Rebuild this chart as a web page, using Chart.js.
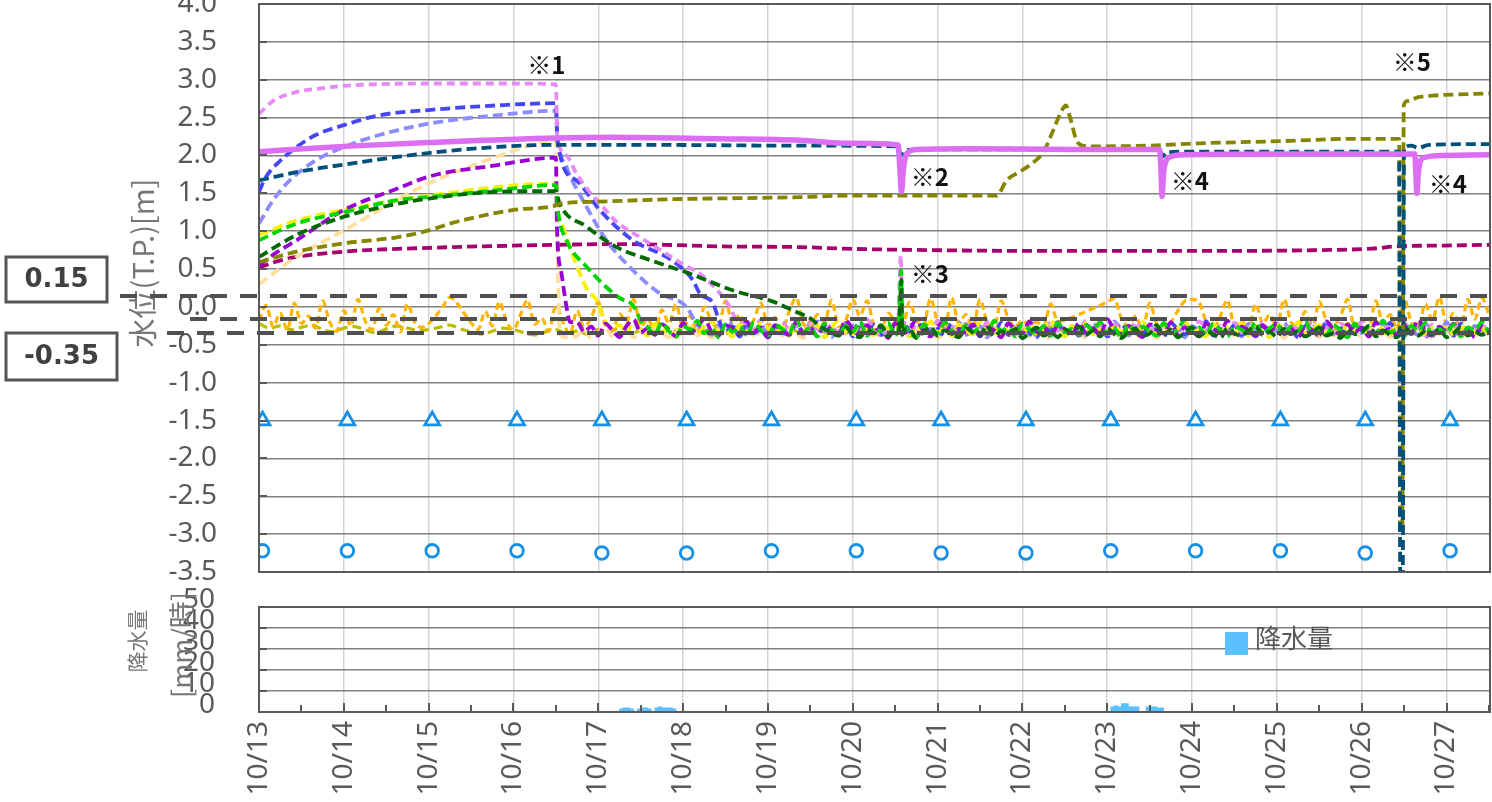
<!DOCTYPE html>
<html>
<head>
<meta charset="utf-8">
<script src="https://cdn.jsdelivr.net/npm/chart.js@4.4.1/dist/chart.umd.min.js"></script>
<style>
  html, body { margin: 0; padding: 0; background: #ffffff; }
  #wrap { position: relative; width: 1492px; height: 802px; overflow: hidden; }
  #wrap canvas { position: absolute; left: 0; top: 0; }
</style>
</head>
<body>
<div id="wrap">
  <canvas id="level" width="1492" height="802"></canvas>
  <canvas id="rain" width="1492" height="802"></canvas>
</div>
<script>
// ---- time axis: hours since 10/13 00:00 ----
const HOUR_MAX = 348.3;
const dayLabels = ['10/13','10/14','10/15','10/16','10/17','10/18','10/19','10/20','10/21','10/22','10/23','10/24','10/25','10/26','10/27'];
const levelTitle = '水位(T.P.)[m]';
const rainTitle = ['降水量', '[mm/時]'];

// ---- water level series: [hour, level T.P. m] ----
const magentaLine = [[0,2.05],[24,2.12],[48,2.17],[84,2.23],[100,2.24],[130,2.22],[153,2.20],[167,2.16],[180.8,2.14],[181.3,1.85],[181.8,1.52],[182.3,1.80],[183.2,2.02],[186,2.08],[200,2.09],[230,2.08],[254.8,2.08],[255.2,1.80],[255.5,1.46],[256,1.80],[257.7,1.98],[262,2.01],[290,2.02],[327,2.02],[327.3,1.80],[327.6,1.50],[328.1,1.80],[329.5,1.97],[335,2.00],[348.3,2.01]];
const tealLine = [[0,1.67],[10.6,1.78],[24,1.88],[39,1.98],[58,2.08],[84,2.14],[110,2.14],[150,2.13],[180.8,2.12],[181.6,2.00],[182.5,2.06],[186,2.08],[230,2.08],[254.8,2.08],[255.6,1.98],[256.5,2.04],[262,2.05],[322.6,2.05],[322.9,-3.6],[323.6,-3.6],[324,2.10],[326,2.13],[328,2.10],[331,2.14],[348.3,2.15]];
const oliveLine = [[0,0.59],[10.6,0.73],[24,0.84],[39,0.92],[48,1.01],[54,1.10],[58,1.15],[72,1.28],[84,1.34],[85,1.36],[96,1.39],[115,1.42],[153,1.45],[167,1.47],[208.7,1.47],[211.5,1.67],[215,1.78],[218,1.87],[222,2.05],[224.7,2.33],[227,2.58],[228.3,2.66],[229.5,2.50],[231.3,2.20],[233,2.13],[235,2.12],[252,2.13],[266,2.16],[290,2.19],[310,2.22],[322.6,2.22],[322.9,-2.95],[323.5,-2.95],[323.9,2.66],[325,2.72],[328,2.77],[332,2.79],[348.3,2.82]];
const crimsonLine = [[0,0.52],[5,0.60],[10.6,0.66],[24,0.73],[48,0.78],[84,0.82],[100,0.83],[115,0.82],[130,0.80],[153,0.79],[165,0.77],[190,0.75],[220,0.74],[266,0.74],[300,0.75],[315,0.77],[322,0.80],[335,0.81],[348.3,0.82]];

// falling limbs after pumping start (※1), then 2-hourly readings
const violetHead = [[0,2.55],[4,2.72],[10,2.83],[18,2.89],[24,2.92],[48,2.95],[70,2.95],[84,2.94],[84.4,2.26],[87,2.00],[89.8,1.76],[93,1.55],[96.4,1.37],[101,1.13],[107.8,0.92],[115.3,0.70],[120,0.56],[124.7,0.44],[128,0.30],[130.4,0.18],[133.2,0.00],[135.5,-0.2]];
const violetTail = [
  -0.22,-0.31,-0.17,-0.28,-0.35,-0.2,-0.3,-0.25,-0.37,-0.19,-0.29,-0.33,
  -0.24,-0.36,-0.21,-0.27,-0.32,-0.16,-0.3,-0.38,-0.23,-0.34,-0.26,-0.2,
  -0.33,-0.28,-0.36,-0.18,-0.31,-0.25,-0.39,-0.22,-0.29,-0.34,-0.2,-0.3,
  -0.37,-0.24,-0.27,-0.33,-0.19,-0.35,-0.28,-0.21,-0.32,-0.38,-0.25,-0.3,
  -0.18,-0.34,-0.26,-0.36,-0.23,-0.29,-0.37,-0.2,-0.31,-0.27,-0.35,-0.22,
  -0.3,-0.39,-0.24,-0.33,-0.19,-0.28,-0.36,-0.25,-0.32,-0.21,-0.34,-0.29,
  -0.37,-0.2,-0.31,-0.26,-0.35,-0.23,-0.3,-0.38,-0.17,-0.33,-0.27,-0.36,
  -0.22,-0.29,-0.34,-0.19,-0.32,-0.37,-0.25,-0.28,-0.35,-0.21,-0.31,-0.26,
  -0.38,-0.23,-0.3,-0.34,-0.2,-0.36,-0.27,-0.32,-0.24,-0.33
];
const violetSpike = [[180.8,-0.27],[181.6,0.68],[182.4,-0.22]];

const blueHead = [[0,1.52],[2,1.72],[6,1.93],[10.6,2.11],[16,2.27],[24,2.40],[34,2.53],[48,2.60],[67,2.66],[84,2.69],[84.4,2.20],[89.8,1.67],[96.4,1.28],[105.8,0.88],[115.3,0.66],[120,0.50],[122.8,0.35],[124.7,0.18],[128.4,0.05],[130.5,-0.22]];
const blueTail = [
  -0.33,-0.26,-0.39,-0.22,-0.35,-0.3,-0.4,-0.24,-0.32,-0.37,-0.2,-0.34,
  -0.28,-0.38,-0.25,-0.31,-0.36,-0.21,-0.39,-0.27,-0.33,-0.23,-0.37,-0.3,
  -0.35,-0.19,-0.32,-0.4,-0.26,-0.34,-0.29,-0.38,-0.22,-0.31,-0.36,-0.25,
  -0.39,-0.28,-0.33,-0.21,-0.37,-0.3,-0.24,-0.35,-0.4,-0.27,-0.32,-0.2,
  -0.36,-0.29,-0.38,-0.23,-0.34,-0.26,-0.39,-0.31,-0.22,-0.35,-0.28,-0.37,
  -0.25,-0.32,-0.4,-0.21,-0.3,-0.36,-0.27,-0.33,-0.19,-0.38,-0.29,-0.34,
  -0.24,-0.37,-0.31,-0.39,-0.26,-0.33,-0.22,-0.36,-0.3,-0.4,-0.25,-0.32,
  -0.38,-0.2,-0.34,-0.28,-0.37,-0.23,-0.31,-0.39,-0.27,-0.35,-0.21,-0.33,
  -0.29,-0.36,-0.24,-0.4,-0.3,-0.34,-0.26,-0.38,-0.22,-0.32,-0.37,-0.28,
  -0.33
];

const periwinkleHead = [[0,1.10],[4,1.41],[8.7,1.67],[16.2,1.94],[24,2.11],[34,2.27],[48,2.42],[67,2.53],[84,2.59],[84.5,2.24],[87,1.85],[92.7,1.32],[98.3,0.88],[105.9,0.48],[113.4,0.18],[121,0.00],[124,-0.24]];
const periwinkleTail = [
  -0.3,-0.37,-0.24,-0.34,-0.2,-0.39,-0.28,-0.33,-0.22,-0.36,-0.31,-0.26,
  -0.38,-0.23,-0.32,-0.35,-0.19,-0.3,-0.4,-0.27,-0.34,-0.25,-0.37,-0.21,
  -0.33,-0.28,-0.39,-0.24,-0.31,-0.36,-0.22,-0.35,-0.29,-0.38,-0.26,-0.32,
  -0.2,-0.37,-0.3,-0.25,-0.4,-0.27,-0.33,-0.21,-0.36,-0.31,-0.24,-0.38,
  -0.29,-0.34,-0.22,-0.39,-0.26,-0.32,-0.37,-0.23,-0.3,-0.35,-0.19,-0.33,
  -0.38,-0.27,-0.31,-0.24,-0.36,-0.21,-0.34,-0.29,-0.4,-0.25,-0.32,-0.37,
  -0.23,-0.3,-0.35,-0.28,-0.39,-0.22,-0.33,-0.26,-0.37,-0.31,-0.2,-0.36,
  -0.29,-0.38,-0.25,-0.32,-0.21,-0.35,-0.3,-0.4,-0.24,-0.34,-0.27,-0.36,
  -0.22,-0.33,-0.39,-0.26,-0.31,-0.37,-0.23,-0.29,-0.35,-0.2,-0.38,-0.28,
  -0.34,-0.25,-0.36,-0.3
];

const purpleHead = [[0,0.55],[5,0.72],[10.6,0.88],[24,1.28],[39,1.56],[48,1.72],[67,1.87],[84,1.97],[84.3,1.06],[85.6,0.44],[87,0.00],[88,-0.20]];
const purpleTail = [
  -0.2,-0.33,-0.26,-0.38,-0.22,-0.31,-0.4,-0.25,-0.17,-0.34,-0.28,-0.37,
  -0.23,-0.3,-0.39,-0.21,-0.35,-0.27,-0.16,-0.32,-0.38,-0.24,-0.29,-0.36,
  -0.19,-0.33,-0.27,-0.4,-0.25,-0.3,-0.37,-0.2,-0.34,-0.28,-0.39,-0.22,
  -0.31,-0.36,-0.18,-0.29,-0.38,-0.24,-0.33,-0.27,-0.41,-0.21,-0.35,-0.3,
  -0.17,-0.32,-0.39,-0.26,-0.2,-0.36,-0.29,-0.34,-0.23,-0.38,-0.27,-0.31,
  -0.4,-0.22,-0.3,-0.35,-0.19,-0.33,-0.26,-0.39,-0.24,-0.29,-0.37,-0.21,
  -0.34,-0.28,-0.38,-0.16,-0.31,-0.36,-0.25,-0.33,-0.4,-0.23,-0.3,-0.35,
  -0.2,-0.37,-0.27,-0.32,-0.39,-0.22,-0.29,-0.34,-0.18,-0.36,-0.26,-0.31,
  -0.38,-0.24,-0.33,-0.21,-0.35,-0.28,-0.4,-0.25,-0.31,-0.37,-0.19,-0.3,
  -0.36,-0.23,-0.34,-0.27,-0.39,-0.2,-0.32,-0.29,-0.37,-0.24,-0.35,-0.17,
  -0.31,-0.38,-0.26,-0.33,-0.22,-0.36,-0.29,-0.4,-0.25,-0.32
];

const peachHead = [[0,0.30],[10.6,0.66],[24,1.01],[39,1.41],[48,1.63],[67,1.98],[76.6,2.13],[84,2.20],[84.6,0.40],[85.2,-0.36],[87,-0.40]];
const peachTail = [
  -0.38,-0.3,-0.41,-0.33,-0.27,-0.39,-0.35,-0.29,-0.4,-0.32,-0.36,-0.28,
  -0.34,-0.4,-0.3,-0.37,-0.26,-0.38,-0.33,-0.41,-0.29,-0.35,-0.39,-0.31,
  -0.36,-0.28,-0.4,-0.34,-0.3,-0.38,-0.27,-0.35,-0.41,-0.32,-0.37,-0.29,
  -0.39,-0.33,-0.36,-0.28,-0.4,-0.31,-0.35,-0.38,-0.3,-0.34,-0.27,-0.39,
  -0.32,-0.37,-0.29,-0.41,-0.34,-0.3,-0.38,-0.33,-0.36,-0.28,-0.4,-0.35,
  -0.3,-0.38,-0.34,-0.27,-0.39,-0.32,-0.36,-0.41,-0.29,-0.35,-0.31,-0.37,
  -0.4,-0.33,-0.28,-0.36,-0.39,-0.31,-0.35,-0.3,-0.38,-0.34,-0.41,-0.29,
  -0.36,-0.32,-0.39,-0.27,-0.35,-0.4,-0.33,-0.37,-0.3,-0.38,-0.34,-0.31,
  -0.39,-0.29,-0.36,-0.33,-0.41,-0.31,-0.37,-0.28,-0.35,-0.4,-0.32,-0.38,
  -0.3,-0.36,-0.34,-0.39,-0.28,-0.37,-0.33,-0.4,-0.31,-0.35,-0.38,-0.29,
  -0.36,-0.41,-0.33,-0.37,-0.3,-0.39,-0.34,-0.38,-0.31,-0.36
];

const greenHead = [[0,0.88],[10.6,1.10],[24,1.25],[39,1.41],[48,1.45],[67,1.54],[84,1.61],[84.6,1.27],[87,0.88],[92.7,0.53],[98.3,0.26],[102,0.12],[105.8,0.02],[108.3,-0.2]];
const greenTail = [
  -0.27,-0.36,-0.21,-0.32,-0.39,-0.25,-0.3,-0.18,-0.35,-0.28,-0.4,-0.23,
  -0.33,-0.26,-0.37,-0.2,-0.31,-0.38,-0.24,-0.29,-0.35,-0.16,-0.34,-0.27,
  -0.39,-0.22,-0.3,-0.36,-0.25,-0.33,-0.19,-0.38,-0.28,-0.32,-0.21,-0.37,
  -0.26,-0.34,-0.4,-0.23,-0.29,-0.35,-0.2,-0.31,-0.37,-0.24,-0.33,-0.28,
  -0.36,-0.18,-0.32,-0.27,-0.39,-0.22,-0.3,-0.35,-0.25,-0.38,-0.21,-0.33,
  -0.29,-0.37,-0.24,-0.31,-0.2,-0.36,-0.28,-0.4,-0.23,-0.34,-0.26,-0.32,
  -0.38,-0.21,-0.35,-0.29,-0.17,-0.33,-0.27,-0.37,-0.22,-0.31,-0.39,-0.25,
  -0.3,-0.34,-0.2,-0.36,-0.28,-0.23,-0.38,-0.26,-0.32,-0.19,-0.35,-0.29,
  -0.37,-0.24,-0.31,-0.4,-0.22,-0.33,-0.27,-0.36,-0.18,-0.34,-0.3,-0.38,
  -0.25,-0.32,-0.21,-0.37,-0.29,-0.35,-0.23,-0.39,-0.27,-0.31,-0.2,-0.34
];
const greenSpike = [[180.9,-0.3],[181.7,0.48],[182.3,-0.25]];

const yellowHead = [[0,0.95],[10.6,1.14],[24,1.28],[48,1.47],[84,1.63],[84.5,1.30],[86,1.06],[90.8,0.44],[93,0.22],[95.5,0.09],[97.5,-0.15],[100,-0.28]];
const yellowTail = [
  -0.24,-0.35,-0.19,-0.3,-0.38,-0.22,-0.33,-0.27,-0.4,-0.2,-0.31,-0.36,
  -0.25,-0.17,-0.34,-0.29,-0.39,-0.23,-0.32,-0.37,-0.21,-0.28,-0.35,-0.26,
  -0.38,-0.2,-0.3,-0.34,-0.24,-0.4,-0.27,-0.18,-0.33,-0.36,-0.22,-0.31,
  -0.37,-0.25,-0.29,-0.21,-0.35,-0.39,-0.26,-0.32,-0.19,-0.34,-0.28,-0.38,
  -0.23,-0.31,-0.36,-0.2,-0.33,-0.27,-0.4,-0.24,-0.3,-0.37,-0.22,-0.35,
  -0.28,-0.18,-0.34,-0.39,-0.25,-0.32,-0.21,-0.36,-0.29,-0.38,-0.23,-0.33,
  -0.26,-0.4,-0.2,-0.31,-0.35,-0.24,-0.37,-0.28,-0.19,-0.34,-0.3,-0.39,
  -0.22,-0.33,-0.27,-0.36,-0.21,-0.38,-0.25,-0.32,-0.4,-0.23,-0.29,-0.35,
  -0.2,-0.37,-0.3,-0.24,-0.34,-0.28,-0.39,-0.22,-0.33,-0.26,-0.36,-0.19,
  -0.31,-0.38,-0.25,-0.29,-0.35,-0.21,-0.4,-0.27,-0.32,-0.23,-0.37,-0.3,
  -0.24,-0.34,-0.28,-0.36
];
const yellowSpike = [[181,-0.3],[181.8,0.30],[182.5,-0.27]];

const darkGreenHead = [[0,0.66],[10.6,0.95],[24,1.19],[39,1.36],[48,1.43],[67,1.52],[84,1.53],[85,1.37],[92.7,1.06],[101.2,0.79],[110.6,0.62],[121.9,0.44],[134,0.22],[145.5,0.07],[152.2,-0.07],[156,-0.15],[159.5,-0.28]];
const darkGreenTail = [
  -0.34,-0.38,-0.27,-0.36,-0.4,-0.3,-0.35,-0.24,-0.39,-0.32,-0.37,-0.29,
  -0.41,-0.33,-0.26,-0.38,-0.31,-0.36,-0.4,-0.28,-0.34,-0.37,-0.25,-0.39,
  -0.32,-0.36,-0.29,-0.41,-0.34,-0.27,-0.38,-0.33,-0.4,-0.3,-0.35,-0.26,
  -0.37,-0.31,-0.39,-0.28,-0.36,-0.41,-0.33,-0.29,-0.38,-0.35,-0.24,-0.37,
  -0.3,-0.4,-0.34,-0.27,-0.39,-0.32,-0.36,-0.41,-0.28,-0.35,-0.38,-0.31,
  -0.26,-0.37,-0.33,-0.4,-0.29,-0.36,-0.32,-0.39,-0.34,-0.27,-0.38,-0.35,
  -0.41,-0.3,-0.36,-0.33,-0.25,-0.39,-0.31,-0.37,-0.4,-0.28,-0.34,-0.38,
  -0.32,-0.36,-0.29,-0.4,-0.35,-0.27,-0.38,-0.33,-0.37,-0.31
];
const darkGreenSpike = [[181,-0.32],[181.8,0.36],[182.5,-0.3]];

// every 2 h from 10/13 00:00
const orangeLevels = [
  -0.18,0.02,-0.26,-0.08,-0.3,0.05,-0.22,-0.12,-0.28,0.08,-0.2,-0.32,
  -0.05,-0.25,0.1,-0.18,-0.3,-0.02,-0.24,-0.1,-0.33,0.04,-0.2,-0.27,
  -0.22,-0.12,0.0,0.13,0.05,-0.08,-0.21,-0.3,-0.06,-0.25,0.07,-0.19,
  -0.3,-0.1,0.09,-0.23,-0.15,-0.32,0.02,-0.2,-0.36,-0.05,-0.27,-0.14,
  0.06,-0.24,-0.31,-0.09,-0.2,0.1,-0.26,-0.15,-0.33,-0.04,-0.22,0.03,
  -0.28,-0.12,-0.35,0.0,-0.19,-0.27,0.08,-0.23,-0.1,-0.3,-0.17,0.05,
  -0.25,-0.14,-0.3,-0.06,0.12,-0.22,-0.28,-0.1,-0.2,0.09,-0.26,-0.18,
  0.1,-0.12,0.08,-0.24,-0.3,-0.08,-0.2,-0.29,0.06,-0.17,-0.25,0.11,
  -0.2,-0.3,0.12,-0.22,-0.1,-0.28,0.1,-0.2,-0.27,0.08,-0.15,-0.26,
  -0.18,-0.24,-0.2,-0.26,0.04,-0.19,-0.18,-0.14,-0.1,-0.06,-0.02,0.02,
  0.07,0.11,-0.16,-0.25,-0.12,-0.3,0.05,-0.22,-0.28,-0.2,-0.05,0.08,
  0.1,0.06,-0.2,-0.3,-0.12,0.09,-0.24,-0.18,-0.32,0.04,-0.22,-0.1,
  -0.28,0.1,-0.2,-0.26,-0.06,-0.31,0.07,-0.18,-0.24,-0.12,0.1,-0.27,
  -0.15,-0.3,0.08,-0.22,-0.1,-0.28,0.12,-0.2,-0.26,0.04,-0.18,0.13,
  -0.22,-0.08,-0.3,0.1,-0.16,0.12,-0.1
];
// every 3 h from 10/13 00:00
const khakiLevels = [
  -0.22,-0.28,-0.25,-0.3,-0.27,-0.24,-0.3,-0.33,
  -0.28,-0.26,-0.3,-0.34,-0.29,-0.25,-0.28,-0.31,
  -0.3,-0.27,-0.24,-0.29,-0.33,-0.36,-0.32,-0.28,
  -0.3,-0.34,-0.37,-0.33,-0.3,-0.35,-0.32,-0.36,
  -0.3,-0.33,-0.28,-0.35,-0.31,-0.26,-0.33,-0.3,
  -0.34,-0.29,-0.32,-0.27,-0.35,-0.3,-0.33,-0.28,
  -0.31,-0.36,-0.29,-0.33,-0.27,-0.32,-0.35,-0.3,
  -0.28,-0.33,-0.3,-0.36,-0.31,-0.27,-0.34,-0.3,
  -0.33,-0.29,-0.35,-0.3,-0.27,-0.32,-0.36,-0.31,
  -0.29,-0.34,-0.3,-0.26,-0.33,-0.31,-0.35,-0.28,
  -0.32,-0.3,-0.36,-0.29,-0.33,-0.27,-0.31,-0.35,
  -0.3,-0.34,-0.28,-0.32,-0.36,-0.3,-0.27,-0.33,
  -0.31,-0.35,-0.29,-0.33,-0.3,-0.26,-0.34,-0.32,
  -0.28,-0.33,-0.36,-0.3,-0.34,-0.29,-0.32,-0.35,
  -0.3,-0.27,-0.33,-0.31,-0.34
];

// well bottom markers
const markerHours = [1,25,49,73,97,121,145,169,193,217,241,265,289,313,337];
const triangleLevels = [-1.5,-1.5,-1.5,-1.5,-1.5,-1.5,-1.5,-1.5,-1.5,-1.5,-1.5,-1.5,-1.5,-1.5,-1.5];
const circleLevels = [-3.22,-3.22,-3.22,-3.22,-3.25,-3.25,-3.22,-3.22,-3.25,-3.25,-3.22,-3.22,-3.22,-3.25,-3.22];

// reference levels and notes
const thresholdLevels = [0.15, -0.16, -0.35];
const boxedLevels = [0.15, -0.35];
const notes = [['※1',81.3,3.20],['※2',189.8,1.72],['※3',189.8,0.44],['※4',263.4,1.66],['※4',336.4,1.62],['※5',326.2,3.23]];

// ---- hourly rainfall [hour, mm] ----
const rainHours = [102.5,103.5,104.5,105.5,107.5,108.5,109.5,110.5,112.5,113.5,114.5,115.5,116.5,117.5,241.5,242.5,243.5,244.5,245.5,246.5,247.5,248.5,251.5,252.5,253.5,254.5,255.5];
const rainMm = [1.5,2,2,1.5,1.5,2,2,1.5,2,2.5,2,2,2,1.5,2.5,3,2.5,4,4,2.5,2.5,2.5,2.5,2.5,2.5,2,2];

// ---- helpers ----
const SANS = "'Noto Sans', 'Noto Sans CJK JP', sans-serif";
const CJK = "'Noto Sans CJK JP', 'Noto Sans', sans-serif";
const TEXT = '#595959';

function joinSeries(head, tailStart, tail, step, extra) {
  const pts = head.map(([x, y]) => ({ x, y }));
  (tail || []).forEach((v, i) => {
    const x = tailStart + i * step;
    if (x <= HOUR_MAX) pts.push({ x, y: v });
  });
  (extra || []).forEach(([x, y]) => pts.push({ x, y }));
  pts.sort((a, b) => a.x - b.x);
  return pts;
}
function fromStep(values, step) {
  return values.map((v, i) => ({ x: i * step, y: v }));
}
function lineSet(label, data, color, width, dash) {
  return {
    label, data, borderColor: color, backgroundColor: color, borderWidth: width,
    borderDash: dash || [], pointRadius: 0, fill: false,
    cubicInterpolationMode: 'monotone', borderJoinStyle: 'round'
  };
}
function markerSet(label, levels, style, radius) {
  return {
    label, data: markerHours.map((h, i) => ({ x: h, y: levels[i] })),
    showLine: false, pointStyle: style, pointRadius: radius,
    pointBorderColor: '#1490E6', pointBackgroundColor: '#ffffff', pointBorderWidth: 2.8,
    borderColor: '#1490E6'
  };
}

// datasets: first entry is painted last (on top)
const levelSets = [
  lineSet('magenta', magentaLine.map(([x, y]) => ({ x, y })), '#DB6EF2', 5.5),
  lineSet('teal', tealLine.map(([x, y]) => ({ x, y })), '#00507A', 3.8, [10, 5]),
  lineSet('olive', oliveLine.map(([x, y]) => ({ x, y })), '#858500', 3.8, [10, 5]),
  lineSet('darkgreen', joinSeries(darkGreenHead, 162, darkGreenTail, 2, darkGreenSpike), '#006A00', 3.8, [10, 5]),
  lineSet('green', joinSeries(greenHead, 110, greenTail, 2, greenSpike), '#00D400', 3.8, [10, 5]),
  lineSet('purple', joinSeries(purpleHead, 90, purpleTail, 2), '#9A00D6', 3.8, [10, 5]),
  lineSet('yellow', joinSeries(yellowHead, 102, yellowTail, 2, yellowSpike), '#F7F000', 3.8, [10, 5]),
  lineSet('violet', joinSeries(violetHead, 138, violetTail, 2, violetSpike), '#E58AF7', 3.8, [8, 5]),
  lineSet('blue', joinSeries(blueHead, 132, blueTail, 2), '#4646F5', 3.8, [10, 5]),
  lineSet('periwinkle', joinSeries(periwinkleHead, 126, periwinkleTail, 2), '#8C8CFF', 3.8, [10, 5]),
  lineSet('peach', joinSeries(peachHead, 90, peachTail, 2), '#FFDF9E', 3.8, [10, 5]),
  lineSet('crimson', crimsonLine.map(([x, y]) => ({ x, y })), '#A6006F', 3.8, [10, 5]),
  lineSet('orange', fromStep(orangeLevels, 2), '#FFB400', 3.2, [7, 4]),
  lineSet('khaki', fromStep(khakiLevels, 3), '#BDBD00', 3.2, [9, 5]),
  markerSet('triangle', triangleLevels, 'triangle', 8.5),
  markerSet('circle', circleLevels, 'circle', 6.3)
];

const levelDecor = {
  id: 'levelDecor',
  beforeDatasetsDraw(chart) {
    const { ctx } = chart;
    ctx.save();
    ctx.translate(143, 263);
    ctx.rotate(-Math.PI / 2);
    ctx.font = `29px ${CJK}`;
    ctx.fillStyle = '#767676';
    ctx.textAlign = 'center';
    ctx.textBaseline = 'middle';
    ctx.fillText(levelTitle, 0, 0);
    ctx.restore();
  },
  afterDatasetsDraw(chart) {
    const { ctx, chartArea: a, scales: { x, y } } = chart;
    ctx.save();
    // frame and inner tick stubs
    ctx.strokeStyle = TEXT;
    ctx.lineWidth = 2;
    ctx.strokeRect(a.left, a.top, a.right - a.left, a.bottom - a.top);
    y.ticks.forEach(t => {
      const py = Math.round(y.getPixelForValue(t.value));
      ctx.beginPath(); ctx.moveTo(a.left, py); ctx.lineTo(a.left + 8, py); ctx.stroke();
    });
    // reference level lines
    const startX = [120, 190, 167];
    ctx.strokeStyle = '#505050';
    ctx.lineWidth = 4;
    ctx.setLineDash([17, 13]);
    thresholdLevels.forEach((v, i) => {
      const py = Math.round(y.getPixelForValue(v));
      ctx.beginPath(); ctx.moveTo(startX[i], py); ctx.lineTo(a.right, py); ctx.stroke();
    });
    ctx.setLineDash([]);
    // value boxes
    const boxes = [[6, 257, 101, 45], [6, 333, 111, 47]];
    boxedLevels.forEach((v, i) => {
      const [bx, by, bw, bh] = boxes[i];
      ctx.fillStyle = '#ffffff';
      ctx.fillRect(bx, by, bw, bh);
      ctx.strokeStyle = '#555555';
      ctx.lineWidth = 3;
      ctx.strokeRect(bx, by, bw, bh);
      ctx.fillStyle = '#404040';
      ctx.font = "bold 26px 'DejaVu Sans', sans-serif";
      ctx.textAlign = 'center';
      ctx.textBaseline = 'middle';
      ctx.fillText(v.toFixed(2), bx + bw / 2, by + bh / 2 + 1);
    });
    // event notes
    ctx.fillStyle = '#111111';
    ctx.font = `bold 24px ${CJK}`;
    ctx.textAlign = 'center';
    ctx.textBaseline = 'middle';
    notes.forEach(([txt, h, v]) => ctx.fillText(txt, x.getPixelForValue(h), y.getPixelForValue(v)));
    ctx.restore();
  }
};

new Chart(document.getElementById('level'), {
  type: 'line',
  data: { datasets: levelSets },
  options: {
    responsive: false,
    animation: false,
    events: [],
    layout: { autoPadding: false, padding: { left: 0, right: 2, top: 4, bottom: 230 } },
    plugins: { legend: { display: false }, tooltip: { enabled: false } },
    scales: {
      x: {
        type: 'linear', min: 0, max: HOUR_MAX,
        afterBuildTicks: s => { s.ticks = dayLabels.map((_, i) => ({ value: i * 24 })); },
        afterFit: s => { s.height = 0; s.paddingLeft = 0; s.paddingRight = 0; },
        ticks: { display: false },
        grid: { color: '#d3d3d3', lineWidth: 1.5, drawTicks: false },
        border: { display: true, color: TEXT, width: 2 }
      },
      y: {
        min: -3.5, max: 4,
        afterFit: s => { s.width = 259; s.paddingTop = 0; s.paddingBottom = 0; },
        ticks: {
          stepSize: 0.5, autoSkip: false, padding: 42, color: TEXT,
          font: { family: SANS, size: 28 },
          callback: v => Number(v).toFixed(1)
        },
        grid: { color: '#808080', lineWidth: 1.5, drawTicks: false },
        border: { color: TEXT, width: 2 }
      }
    }
  },
  plugins: [levelDecor]
});

const rainDecor = {
  id: 'rainDecor',
  afterDraw(chart) {
    const { ctx, chartArea: a, scales: { x, y } } = chart;
    ctx.save();
    ctx.strokeStyle = TEXT;
    ctx.lineWidth = 2;
    ctx.strokeRect(a.left, a.top, a.right - a.left, a.bottom - a.top);
    x.ticks.forEach(t => {
      const px = Math.round(x.getPixelForValue(t.value));
      const len = t.value % 24 === 0 ? 9 : 7;
      ctx.beginPath(); ctx.moveTo(px, a.bottom); ctx.lineTo(px, a.bottom - len); ctx.stroke();
    });
    y.ticks.forEach(t => {
      const py = Math.round(y.getPixelForValue(t.value));
      ctx.beginPath(); ctx.moveTo(a.left, py); ctx.lineTo(a.left + 8, py); ctx.stroke();
    });
    // axis title, two rotated lines
    ctx.fillStyle = '#767676';
    ctx.textAlign = 'center';
    ctx.textBaseline = 'middle';
    ctx.save();
    ctx.translate(137, 641); ctx.rotate(-Math.PI / 2);
    ctx.font = `21px ${CJK}`;
    ctx.fillText(rainTitle[0], 0, 0);
    ctx.restore();
    ctx.save();
    ctx.translate(182, 645); ctx.rotate(-Math.PI / 2);
    ctx.font = `27px ${CJK}`;
    ctx.fillText(rainTitle[1], 0, 0);
    ctx.restore();
    // legend
    const ds = chart.data.datasets[0];
    ctx.fillStyle = ds.backgroundColor;
    ctx.fillRect(1225, 632, 23, 23);
    ctx.fillStyle = TEXT;
    ctx.font = `26px ${CJK}`;
    ctx.textAlign = 'left';
    ctx.fillText(ds.label, 1255, 638);
    ctx.restore();
  }
};

new Chart(document.getElementById('rain'), {
  type: 'bar',
  data: {
    datasets: [{
      label: '降水量',
      data: rainHours.map((h, i) => ({ x: h, y: rainMm[i] })),
      backgroundColor: '#5AC0FF',
      borderWidth: 0,
      barPercentage: 1,
      categoryPercentage: 1,
      grouped: false
    }]
  },
  options: {
    responsive: false,
    animation: false,
    events: [],
    layout: { autoPadding: false, padding: { left: 0, right: 2, top: 607, bottom: 0 } },
    plugins: { legend: { display: false }, tooltip: { enabled: false } },
    scales: {
      x: {
        type: 'linear', min: 0, max: HOUR_MAX, offset: false,
        afterBuildTicks: s => {
          const t = [];
          for (let h = 0; h <= HOUR_MAX; h += 12) t.push({ value: h });
          s.ticks = t;
        },
        afterFit: s => { s.height = 90; s.paddingLeft = 0; s.paddingRight = 0; },
        ticks: {
          autoSkip: false, minRotation: 90, maxRotation: 90, padding: 9, color: TEXT,
          font: { family: SANS, size: 28 },
          callback: v => (v % 24 === 0 ? dayLabels[v / 24] : '')
        },
        grid: {
          offset: false, drawTicks: false, lineWidth: 1.5,
          color: c => (c.tick && c.tick.value % 24 === 0) ? '#d3d3d3' : 'rgba(0,0,0,0)'
        },
        border: { color: TEXT, width: 2 }
      },
      y: {
        min: 0, max: 50,
        afterFit: s => { s.width = 259; s.paddingTop = 0; s.paddingBottom = 0; },
        ticks: {
          stepSize: 10, autoSkip: false, padding: 44, color: TEXT, labelOffset: -7,
          font: { family: SANS, size: 28 }
        },
        grid: { color: '#808080', lineWidth: 1.5, drawTicks: false },
        border: { color: TEXT, width: 2 }
      }
    }
  },
  plugins: [rainDecor]
});
</script>
</body>
</html>
